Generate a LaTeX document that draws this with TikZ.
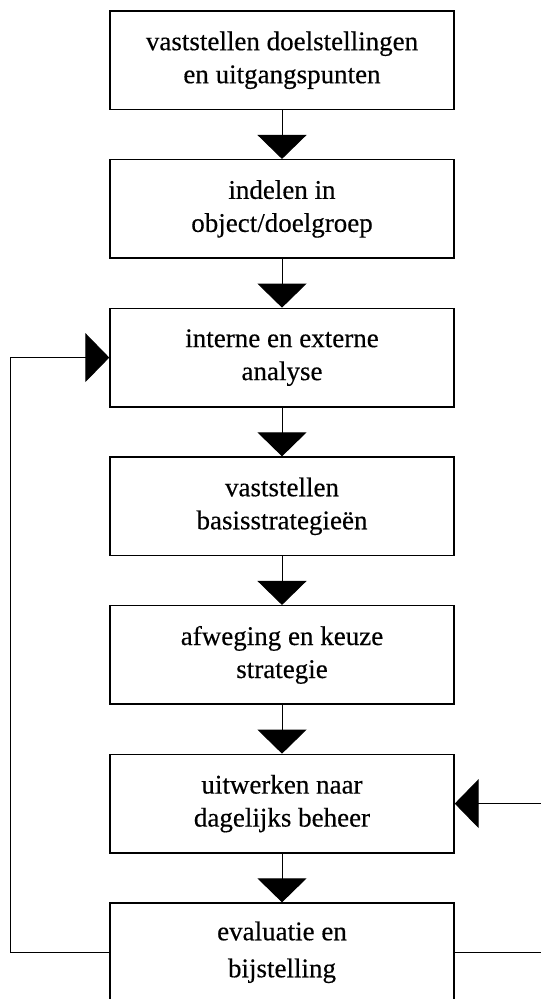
\documentclass[tikz,border=0pt]{standalone}
\usepackage{fontspec}
\setmainfont{Liberation Serif}[FakeBold=0.3]
\newfontfamily\boxfont{Liberation Serif}[FakeBold=0.35]
\usetikzlibrary{arrows.meta}

\tikzset{
  stage/.style={draw=black, line width=1.4pt, minimum width=344pt, minimum height=98.5pt,
    inner sep=0pt, align=center, font=\boxfont\fontsize{27}{33}\selectfont,
    execute at begin node={\rule{0pt}{31pt}}},
  conn/.style={draw=black, line width=1pt},
  flow/.style={conn, -{Triangle[width=49pt,length=24pt]}},
}

\begin{document}
\begin{tikzpicture}[x=1pt, y=-1pt]
  \useasboundingbox (0,0) rectangle (541,999);
  \fill[white] (0,0) rectangle (541,999);

  % process stages, top to bottom
  \node[stage] (b1) at (282, 60.25)  {vaststellen doelstellingen\\en uitgangspunten};
  \node[stage] (b2) at (282, 208.9)  {indelen in\\object/doelgroep};
  \node[stage] (b3) at (282, 357.6)  {interne en externe\\analyse};
  \node[stage] (b4) at (282, 506.3)  {vaststellen\\basisstrategieën};
  \node[stage] (b5) at (282, 654.9)  {afweging en keuze\\strategie};
  \node[stage] (b6) at (282, 803.6)  {uitwerken naar\\dagelijks beheer};
  \node[stage] (b7) at (282, 952.3)  {evaluatie en\\[4pt]bijstelling};

  % main sequence
  \draw[flow] (b1) -- (b2);
  \draw[flow] (b2) -- (b3);
  \draw[flow] (b3) -- (b4);
  \draw[flow] (b4) -- (b5);
  \draw[flow] (b5) -- (b6);
  \draw[flow] (b6) -- (b7);

  % feedback loops
  \coordinate (fbL) at (10, 0);
  \coordinate (fbR) at (550, 0);
  \draw[flow] (b7.west) -- (b7.west -| fbL) |- (b3.west);
  \draw[flow] (b7.east) -- (b7.east -| fbR) |- (b6.east);
\end{tikzpicture}
\end{document}
